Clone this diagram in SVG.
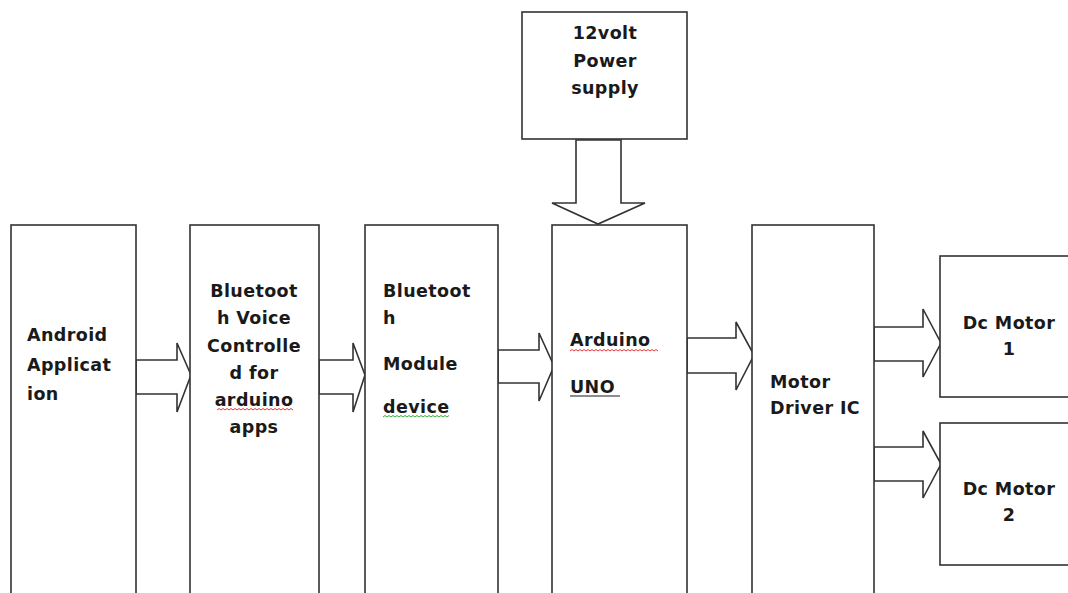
<svg xmlns="http://www.w3.org/2000/svg" width="1068" height="593" viewBox="0 0 1068 593">
<style>
.box{fill:#fff;stroke:#333;stroke-width:1.6}
.arr{fill:#fff;stroke:#333;stroke-width:1.6;stroke-linejoin:miter}
.t{font-family:"DejaVu Sans",sans-serif;font-weight:bold;font-size:17.5px;letter-spacing:0.4px;fill:#1a1a1a}
.c{text-anchor:middle}
.wr{fill:none;stroke:#e02020;stroke-width:0.9}
.wg{fill:none;stroke:#20a020;stroke-width:0.9}
</style>
<defs>
<pattern id="wave" width="4" height="3" patternUnits="userSpaceOnUse"/>
</defs>
<rect width="1068" height="593" fill="#fff"/>
<g id="connectors">
<polygon class="arr" points="136,360 177,360 177,343 191,375 177,412 177,394 136,394"/>
<polygon class="arr" points="319,360 353,360 353,343 365,375 353,412 353,394 319,394"/>
<polygon class="arr" points="498,350 539,350 539,333 554,366 539,401 539,383 498,383"/>
<polygon class="arr" points="687,338 736,338 736,322 754,355 736,390 736,373 687,373"/>
<polygon class="arr" points="874,327 923,327 923,309 941,343 923,377 923,361 874,361"/>
<polygon class="arr" points="874,447 923,447 923,431 941,464 923,498 923,481 874,481"/>
<polygon class="arr" points="576,140 621,140 621,203 645,203 598,224 552,203 576,203"/>
</g>
<g id="power">
<rect class="box" x="522" y="12" width="165" height="127"/>
<text class="t c" x="605" y="39">12volt</text>
<text class="t c" x="605" y="67">Power</text>
<text class="t c" x="605" y="94">supply</text>
</g>
<g id="android">
<rect class="box" x="11" y="225" width="125" height="380"/>
<text class="t" x="27" y="341">Android</text>
<text class="t" x="27" y="371">Applicat</text>
<text class="t" x="27" y="400">ion</text>
</g>
<g id="voice">
<rect class="box" x="190" y="225" width="129" height="380"/>
<text class="t c" x="254" y="297">Bluetoot</text>
<text class="t c" x="254" y="324">h Voice</text>
<text class="t c" x="254" y="352">Controlle</text>
<text class="t c" x="254" y="379">d for</text>
<text class="t c" x="254" y="406">arduino</text>
<text class="t c" x="254" y="433">apps</text>
<path class="wr" d="M217,410 l2,-1.5 l2,1.5 l2,-1.5 l2,1.5 l2,-1.5 l2,1.5 l2,-1.5 l2,1.5 l2,-1.5 l2,1.5 l2,-1.5 l2,1.5 l2,-1.5 l2,1.5 l2,-1.5 l2,1.5 l2,-1.5 l2,1.5 l2,-1.5 l2,1.5 l2,-1.5 l2,1.5 l2,-1.5 l2,1.5 l2,-1.5 l2,1.5 l2,-1.5 l2,1.5 l2,-1.5 l2,1.5 l2,-1.5 l2,1.5 l2,-1.5 l2,1.5 l2,-1.5 l2,1.5 l2,-1.5 l2,1.5"/>
</g>
<g id="btmodule">
<rect class="box" x="365" y="225" width="133" height="380"/>
<text class="t" x="383" y="297">Bluetoot</text>
<text class="t" x="383" y="324">h</text>
<text class="t" x="383" y="370">Module</text>
<text class="t" x="383" y="413">device</text>
<path class="wg" d="M383,417 l2,-1.5 l2,1.5 l2,-1.5 l2,1.5 l2,-1.5 l2,1.5 l2,-1.5 l2,1.5 l2,-1.5 l2,1.5 l2,-1.5 l2,1.5 l2,-1.5 l2,1.5 l2,-1.5 l2,1.5 l2,-1.5 l2,1.5 l2,-1.5 l2,1.5 l2,-1.5 l2,1.5 l2,-1.5 l2,1.5 l2,-1.5 l2,1.5 l2,-1.5 l2,1.5 l2,-1.5 l2,1.5 l2,-1.5 l2,1.5 l2,-1.5"/>
</g>
<g id="arduino">
<rect class="box" x="552" y="225" width="135" height="380"/>
<text class="t" x="570" y="346">Arduino</text>
<text class="t" x="570" y="393">UNO</text>
<line x1="570" y1="396" x2="620" y2="396" stroke="#1a1a1a" stroke-width="1.2"/>
<path class="wr" d="M570,351 l2,-1.5 l2,1.5 l2,-1.5 l2,1.5 l2,-1.5 l2,1.5 l2,-1.5 l2,1.5 l2,-1.5 l2,1.5 l2,-1.5 l2,1.5 l2,-1.5 l2,1.5 l2,-1.5 l2,1.5 l2,-1.5 l2,1.5 l2,-1.5 l2,1.5 l2,-1.5 l2,1.5 l2,-1.5 l2,1.5 l2,-1.5 l2,1.5 l2,-1.5 l2,1.5 l2,-1.5 l2,1.5 l2,-1.5 l2,1.5 l2,-1.5 l2,1.5 l2,-1.5 l2,1.5 l2,-1.5 l2,1.5 l2,-1.5 l2,1.5 l2,-1.5 l2,1.5 l2,-1.5 l2,1.5"/>
</g>
<g id="driver">
<rect class="box" x="752" y="225" width="122" height="380"/>
<text class="t" x="770" y="388">Motor</text>
<text class="t" x="770" y="414">Driver IC</text>
</g>
<g id="motor1">
<rect class="box" x="940" y="256" width="140" height="141"/>
<text class="t c" x="1009" y="329">Dc Motor</text>
<text class="t c" x="1009" y="355">1</text>
</g>
<g id="motor2">
<rect class="box" x="940" y="423" width="140" height="142"/>
<text class="t c" x="1009" y="495">Dc Motor</text>
<text class="t c" x="1009" y="521">2</text>
</g>
</svg>
